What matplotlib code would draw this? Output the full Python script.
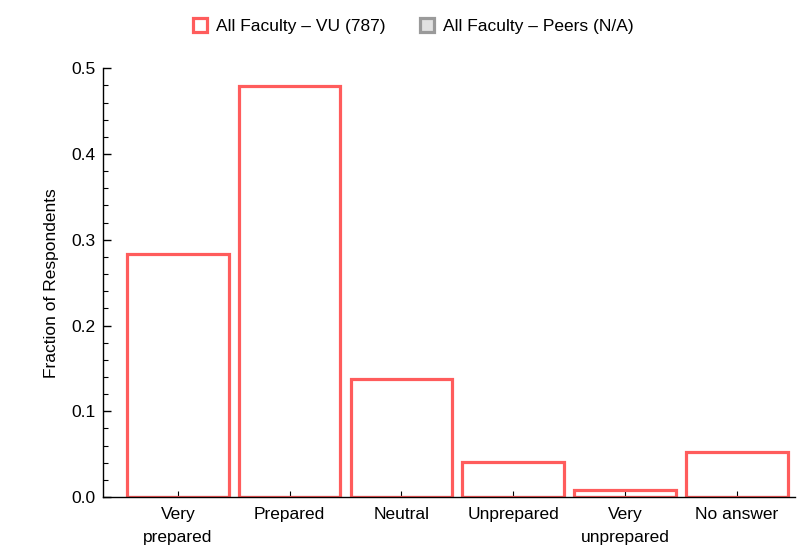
import numpy as np
import matplotlib.pyplot as plt
from matplotlib.patches import Patch

plt.rcParams['font.family'] = ['Liberation Sans', 'DejaVu Sans']

# data
categories = ["Very\nprepared", "Prepared", "Neutral", "Unprepared", "Very\nunprepared", "No answer"]
vu_counts = [223, 377, 108, 32, 6, 41]
vu_total = 787
vu_frac = [c / vu_total for c in vu_counts]
peers_frac = [0, 0, 0, 0, 0, 0]

red = "#ff5c5c"
gray_edge = "#9a9a9a"
gray_face = "#e2e2e2"

fig = plt.figure(figsize=(7.98, 5.49), dpi=100)
ax = fig.add_axes([0.129, 0.0947, 0.867, 0.781])

x = np.arange(len(categories))
ax.bar(x, peers_frac, width=0.91, facecolor=gray_face, edgecolor="#666666", linewidth=1.5, zorder=2)
ax.bar(x, vu_frac, width=0.91, facecolor="none", edgecolor=red, linewidth=2.3, zorder=3)

ax.set_xlim(-0.67, 5.52)
ax.set_ylim(0, 0.5)
ax.set_yticks([0.0, 0.1, 0.2, 0.3, 0.4, 0.5])
ax.set_yticklabels(["0.0", "0.1", "0.2", "0.3", "0.4", "0.5"])
ax.set_yticks(np.arange(0, 0.5, 0.02), minor=True)
ax.set_xticks(x)
ax.set_xticklabels(categories, linespacing=1.65)

ax.tick_params(axis='y', which='major', direction='in', length=6, width=1, labelsize=12.5, pad=5)
ax.tick_params(axis='y', which='minor', direction='in', length=3.5, width=0.8)
ax.tick_params(axis='x', which='major', direction='in', length=4, width=0.8, labelsize=12.5, pad=7)

for s in ['top', 'right']:
    ax.spines[s].set_visible(False)
for s in ['left', 'bottom']:
    ax.spines[s].set_linewidth(1)
    ax.spines[s].set_zorder(4)

ax.set_ylabel("Fraction of Respondents", fontsize=12.5, labelpad=9)

handles = [
    Patch(facecolor="white", edgecolor=red, linewidth=2.3, label="All Faculty \u2013 VU (787)"),
    Patch(facecolor=gray_face, edgecolor=gray_edge, linewidth=2.3, label="All Faculty \u2013 Peers (N/A)"),
]
fig.legend(handles=handles, loc='upper center', bbox_to_anchor=(0.518, 0.995), ncol=2,
           frameon=False, fontsize=12.5, handlelength=0.8, handleheight=0.8,
           handletextpad=0.5, columnspacing=2.0)

fig.savefig("out.png", dpi=100)
